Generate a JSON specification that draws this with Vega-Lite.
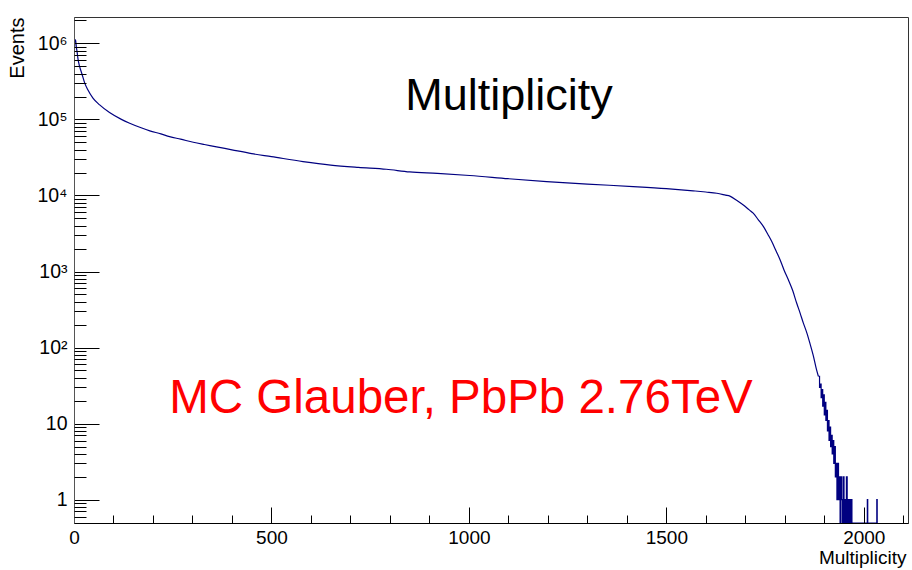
{
  "$schema": "https://vega.github.io/schema/vega-lite/v6.json",
  "width": 834,
  "height": 506,
  "autosize": {"type": "none"},
  "padding": {"left": 74, "top": 17, "right": 4, "bottom": 47},
  "background": "white",
  "config": {"view": {"stroke": "#333", "strokeWidth": 1}, "font": "Liberation Sans"},
  "title": {"text": "Multiplicity", "fontSize": 45, "font": "Liberation Sans", "fontWeight": "normal", "color": "#000", "anchor": "middle", "baseline": "alphabetic", "offset": 0, "dy": 138, "dx": 18},
  "datasets": {
    "main": [
      {"m": 0, "v": 257000}, {"m": 2, "v": 1122000}, {"m": 4, "v": 1096000}, {"m": 6, "v": 891000},
      {"m": 8, "v": 759000}, {"m": 10, "v": 631000}, {"m": 14, "v": 501000}, {"m": 20, "v": 398000},
      {"m": 27, "v": 302000}, {"m": 35, "v": 245000}, {"m": 48, "v": 191000}, {"m": 65, "v": 155000},
      {"m": 90, "v": 123000}, {"m": 120, "v": 100000}, {"m": 141, "v": 89100}, {"m": 170, "v": 77600},
      {"m": 192, "v": 70800}, {"m": 220, "v": 64600}, {"m": 242, "v": 59400}, {"m": 270, "v": 55000},
      {"m": 302, "v": 50100}, {"m": 330, "v": 46800}, {"m": 361, "v": 43600}, {"m": 400, "v": 39800},
      {"m": 450, "v": 35500}, {"m": 500, "v": 32400}, {"m": 580, "v": 27900}, {"m": 650, "v": 25100},
      {"m": 720, "v": 23400}, {"m": 791, "v": 22100}, {"m": 850, "v": 20400}, {"m": 920, "v": 19500},
      {"m": 1002, "v": 18300}, {"m": 1100, "v": 16600}, {"m": 1197, "v": 15200}, {"m": 1300, "v": 14100},
      {"m": 1416, "v": 13100}, {"m": 1500, "v": 12300}, {"m": 1568, "v": 11500}, {"m": 1600, "v": 11100},
      {"m": 1628, "v": 10700}, {"m": 1650, "v": 10100}, {"m": 1661, "v": 9800}, {"m": 1680, "v": 8500},
      {"m": 1695, "v": 7500}, {"m": 1710, "v": 6460}, {"m": 1720, "v": 5850}, {"m": 1733, "v": 4790},
      {"m": 1746, "v": 3890}, {"m": 1757, "v": 3090}, {"m": 1767, "v": 2480}, {"m": 1778, "v": 1860},
      {"m": 1788, "v": 1430}, {"m": 1798, "v": 1050}, {"m": 1809, "v": 778}, {"m": 1820, "v": 562},
      {"m": 1830, "v": 385}, {"m": 1839, "v": 282}, {"m": 1847, "v": 210}, {"m": 1856, "v": 155},
      {"m": 1864, "v": 112}, {"m": 1872, "v": 79}, {"m": 1880, "v": 52}, {"m": 1885, "v": 42}
    ],
    "tail": [
      {"m": 1885, "v": 42}, {"m": 1888, "v": 30}, {"m": 1890, "v": 33}, {"m": 1892, "v": 22},
      {"m": 1894, "v": 28}, {"m": 1896, "v": 17}, {"m": 1898, "v": 24}, {"m": 1900, "v": 13},
      {"m": 1902, "v": 19}, {"m": 1904, "v": 11}, {"m": 1906, "v": 15}, {"m": 1908, "v": 8},
      {"m": 1910, "v": 11}, {"m": 1912, "v": 6}, {"m": 1914, "v": 9}, {"m": 1916, "v": 5},
      {"m": 1918, "v": 7}, {"m": 1920, "v": 4}, {"m": 1922, "v": 6}, {"m": 1924, "v": 3},
      {"m": 1926, "v": 5}, {"m": 1928, "v": 2}, {"m": 1930, "v": 3}, {"m": 1932, "v": 1},
      {"m": 1934, "v": 3}, {"m": 1936, "v": 1}, {"m": 1938, "v": 2}, {"m": 1940, "v": 0},
      {"m": 1942, "v": 2}, {"m": 1944, "v": 1}, {"m": 1946, "v": 0}, {"m": 1948, "v": 2},
      {"m": 1950, "v": 0}, {"m": 1952, "v": 1}, {"m": 1954, "v": 0}, {"m": 1956, "v": 2},
      {"m": 1958, "v": 0}, {"m": 1960, "v": 1}, {"m": 1962, "v": 0}, {"m": 1964, "v": 1},
      {"m": 1966, "v": 0}, {"m": 1968, "v": 1}, {"m": 1970, "v": 0}, {"m": 2009, "v": 1},
      {"m": 2010, "v": 0}, {"m": 2033, "v": 1}, {"m": 2034, "v": 0}
    ]
  },
  "layer": [
    {
      "data": {"name": "main"},
      "mark": {"type": "line", "interpolate": "monotone", "color": "#000080", "strokeWidth": 1.2, "clip": true},
      "encoding": {
        "x": {"field": "m", "type": "quantitative",
          "scale": {"domain": [0, 2112], "nice": false, "zero": false},
          "axis": {"orient": "bottom", "values": [0, 500, 1000, 1500, 2000], "tickSize": -16, "tickColor": "#000", "tickWidth": 1,
            "domainColor": "#000", "labelPadding": 21, "labelFontSize": 19, "labelFont": "Liberation Sans", "labelColor": "#000",
            "labelFlush": false, "labelBound": false, "labelOverlap": false, "grid": false, "zindex": 1, "format": "d",
            "title": "Multiplicity", "titleFontSize": 19, "titleFont": "Liberation Sans", "titleFontWeight": "normal", "titleColor": "#000",
            "titleX": 832, "titleY": 40, "titleAlign": "right", "titleBaseline": "alphabetic", "titleAnchor": null}},
        "y": {"field": "v", "type": "quantitative",
          "scale": {"type": "log", "domain": [0.494, 2220000], "nice": false, "clamp": true},
          "axis": {"orient": "left", "values": [1, 10, 100, 1000, 10000, 100000, 1000000], "tickSize": -25, "tickColor": "#000", "tickWidth": 1,
            "domainColor": "#555", "labelPadding": 32, "labelFontSize": 19.5, "labelFont": "Liberation Sans", "labelColor": "#000",
            "labelFlush": false, "labelBound": false, "labelOverlap": false, "grid": false, "zindex": 1,
            "labelExpr": "datum.value == 1 ? '1' : datum.value == 10 ? '10' : datum.value == 100 ? '10²' : datum.value == 1000 ? '10³' : datum.value == 10000 ? '10⁴' : datum.value == 100000 ? '10⁵' : '10⁶'",
            "title": "Events", "titleFontSize": 20, "titleFont": "Liberation Sans", "titleFontWeight": "normal", "titleColor": "#000",
            "titleAngle": -90, "titleX": -51, "titleY": 0, "titleAlign": "right", "titleBaseline": "alphabetic", "titleAnchor": null}}
      }
    },
    {
      "data": {"name": "tail"},
      "mark": {"type": "line", "interpolate": "step-after", "color": "#000080", "strokeWidth": 1.2, "clip": true, "invalid": null},
      "encoding": {
        "x": {"field": "m", "type": "quantitative",
          "axis": {"orient": "bottom", "values": [100, 200, 300, 400, 600, 700, 800, 900, 1100, 1200, 1300, 1400, 1600, 1700, 1800, 1900, 2100],
            "tickSize": -8, "tickColor": "#000", "tickWidth": 1, "labels": false, "domain": false, "grid": false, "title": null, "zindex": 1}},
        "y": {"field": "v", "type": "quantitative",
          "axis": {"orient": "left", "values": [0.6, 0.7, 0.8, 0.9, 2, 3, 4, 5, 6, 7, 8, 9, 20, 30, 40, 50, 60, 70, 80, 90, 200, 300, 400, 500, 600, 700, 800, 900, 2000, 3000, 4000, 5000, 6000, 7000, 8000, 9000, 20000, 30000, 40000, 50000, 60000, 70000, 80000, 90000, 200000, 300000, 400000, 500000, 600000, 700000, 800000, 900000, 2000000],
            "tickSize": -12, "tickColor": "#000", "tickWidth": 1, "labels": false, "domain": false, "grid": false, "title": null, "zindex": 1}}
      }
    },
    {
      "data": {"values": [{}]},
      "mark": {"type": "text", "text": "MC Glauber, PbPb 2.76TeV", "color": "#ff0000", "fontSize": 47.5, "font": "Liberation Sans", "align": "center", "baseline": "alphabetic"},
      "encoding": {
        "x": {"datum": 980, "type": "quantitative", "axis": null},
        "y": {"datum": 13.9, "type": "quantitative", "axis": null}
      }
    }
  ],
  "resolve": {"axis": {"x": "independent", "y": "independent"}}
}
